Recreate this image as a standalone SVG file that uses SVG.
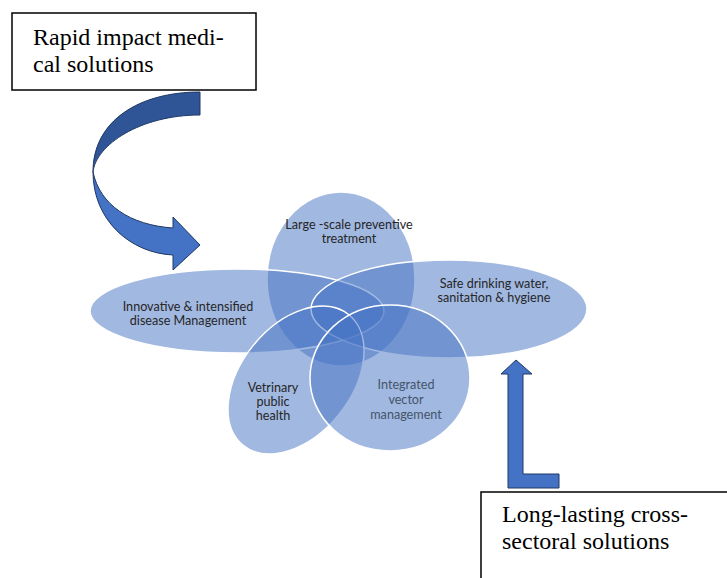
<svg xmlns="http://www.w3.org/2000/svg" width="727" height="578" viewBox="0 0 727 578">
<style>
.bx{fill:#fff;stroke:#000;stroke-width:1.5}
.bt{font-family:"Liberation Serif",serif;font-size:24px;fill:#000}
.el{fill:#4472C4;fill-opacity:0.5;stroke:#fff;stroke-width:1.5}
.lb{font-family:Lato,"Open Sans",sans-serif;font-size:12.6px;fill:#262626;text-anchor:middle}
.lb2{fill:#44546A}
.ar{stroke:#203864;stroke-width:1;stroke-linejoin:miter}
</style>
<rect width="727" height="578" fill="#fff"/>
<g id="petals">
<g id="n-large"><ellipse class="el" cx="341" cy="279" rx="74" ry="87"/></g>
<g id="n-innov"><ellipse class="el" cx="237" cy="311" rx="147" ry="42"/></g>
<g id="n-safe"><ellipse class="el" cx="449" cy="309" rx="138" ry="49"/></g>
<g id="n-vet"><ellipse class="el" cx="296" cy="380" rx="84" ry="55" transform="rotate(-51 296 380)"/></g>
<g id="n-ivm"><ellipse class="el" cx="390" cy="378" rx="80" ry="73"/></g>
</g>
<g id="labels">
<text class="lb" x="349" y="229">Large -scale preventive</text>
<text class="lb" x="349" y="243">treatment</text>
<text class="lb" x="188" y="311">Innovative &amp; intensified</text>
<text class="lb" x="188" y="325">disease Management</text>
<text class="lb" x="494" y="288">Safe drinking water,</text>
<text class="lb" x="494" y="302">sanitation &amp; hygiene</text>
<text class="lb" x="273" y="392">Vetrinary</text>
<text class="lb" x="273" y="406">public</text>
<text class="lb" x="273" y="420">health</text>
<text class="lb lb2" x="406" y="389">Integrated</text>
<text class="lb lb2" x="406" y="404">vector</text>
<text class="lb lb2" x="406" y="419">management</text>
</g>
<g id="n-rapid">
<rect class="bx" x="12" y="13" width="244" height="77"/>
<text class="bt" x="33" y="45">Rapid impact medi-</text>
<text class="bt" x="33" y="72">cal solutions</text>
</g>
<g id="n-long">
<rect class="bx" x="481" y="492" width="260" height="100"/>
<text class="bt" x="502" y="522">Long-lasting cross-</text>
<text class="bt" x="502" y="549">sectoral solutions</text>
</g>
<g id="connectors">
<path class="ar" fill="#2F5597" d="M200,92 C140,92 93,120 93,172 C96,145 140,115 200,115 Z"/>
<path class="ar" fill="#4472C4" d="M93,172 C93,220 130,253 173,255 L173,270 L200,245 L173,217 L173,228 C130,225 100,205 93,172 Z"/>
<path class="ar" fill="#4472C4" d="M516,360 L532,374 L523,374 L523,474 L559,474 L559,488 L508,488 L508,374 L501,374 Z"/>
</g>
</svg>
